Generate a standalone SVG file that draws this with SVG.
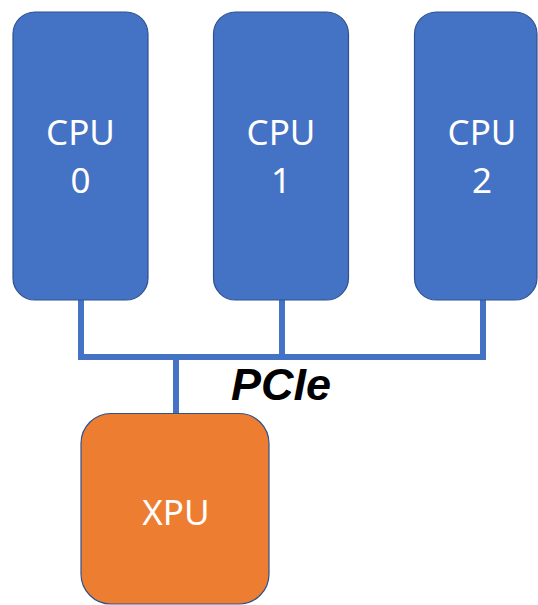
<svg xmlns="http://www.w3.org/2000/svg" width="538" height="605" viewBox="0 0 538 605">
<style>
.cpu{fill:#4472C4;stroke:#2F528F;stroke-width:1.2}
.xpu{fill:#ED7D31;stroke:#2F528F;stroke-width:1.2}
.lbl{fill:#FFFFFF;font-family:"Noto Sans","Open Sans",sans-serif;font-size:35px;text-anchor:middle}
.bus{fill:none;stroke:#4472C4;stroke-width:6;stroke-linejoin:miter}
.pcie{fill:#000000;font-family:"Liberation Sans",Arial,sans-serif;font-weight:bold;font-style:italic;font-size:45px}
</style>
<rect width="538" height="605" fill="#FFFFFF"/>
<g id="connectors">
<path class="bus" d="M81,300 V357 H483 V300"/>
<path class="bus" d="M282,300 V357"/>
<path class="bus" d="M176,357 V414"/>
</g>
<g id="cpu0">
<rect class="cpu" x="13" y="12" width="135" height="288" rx="22"/>
<text class="lbl" x="80.5" y="145">CPU</text>
<text class="lbl" x="80.5" y="193">0</text>
</g>
<g id="cpu1">
<rect class="cpu" x="213.5" y="12" width="135" height="288" rx="22"/>
<text class="lbl" x="281" y="145">CPU</text>
<text class="lbl" x="281" y="193">1</text>
</g>
<g id="cpu2">
<rect class="cpu" x="414.5" y="12" width="122.5" height="288" rx="22"/>
<text class="lbl" x="482" y="145">CPU</text>
<text class="lbl" x="482" y="193">2</text>
</g>
<g id="xpu">
<rect class="xpu" x="81" y="413.5" width="188" height="190.5" rx="30"/>
<text class="lbl" x="176" y="525">XPU</text>
</g>
<g id="pcie-label">
<text class="pcie" x="231" y="400">PCIe</text>
</g>
</svg>
